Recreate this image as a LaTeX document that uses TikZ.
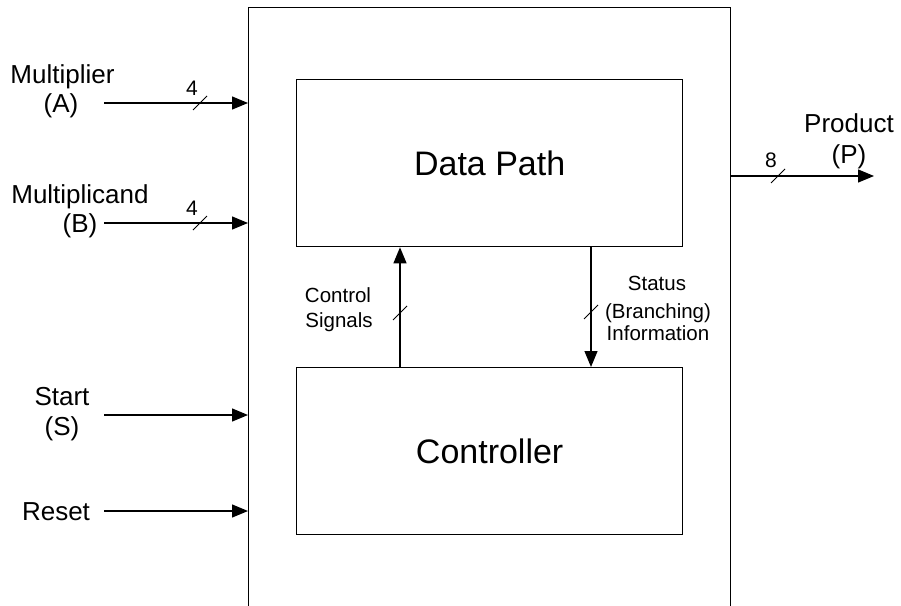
\documentclass[tikz,border=0pt]{standalone}
\usepackage{fontspec}
\setmainfont{Liberation Sans}
\usetikzlibrary{arrows.meta}
\begin{document}
\begin{tikzpicture}[x=1pt,y=-1pt,
  lbl/.style={font=\fontsize{26}{28}\selectfont, inner sep=0pt, anchor=base},
  small/.style={font=\fontsize{20.5}{24}\selectfont, inner sep=0pt, anchor=base},
  width/.style={font=\fontsize{21}{24}\selectfont, inner sep=0pt, anchor=base},
  big/.style={font=\fontsize{34}{36}\selectfont},
  sig/.style={line width=1.3pt, -{Triangle[length=16pt,width=13pt]}},
  box/.style={draw, line width=1.3pt, inner sep=0pt},
  bus/.style={line width=0.9pt}]
\useasboundingbox (0,0) rectangle (901,605);
\clip (0,0) rectangle (901,605);
% boxes
\node[box, minimum width=482pt, minimum height=640pt, anchor=north west] (outer) at (248,7) {};
\node[box, big, minimum width=386pt, minimum height=167pt, anchor=north west] (dp) at (296,79) {Data Path};
\node[box, big, minimum width=386pt, minimum height=167pt, anchor=north west] (ctrl) at (296,367) {Controller};
% input coordinates
\coordinate (ia) at (104,103);
\coordinate (ib) at (104,223);
\coordinate (is) at (104,415);
\coordinate (ir) at (104,511);
\coordinate (po) at (874,176);
\coordinate (cx) at (400,0);
\coordinate (sx) at (591,0);
% input arrows
\draw[sig] (ia) -- (ia -| outer.west);
\draw[sig] (ib) -- (ib -| outer.west);
\draw[sig] (is) -- (is -| outer.west);
\draw[sig] (ir) -- (ir -| outer.west);
% output arrow
\draw[sig] (po -| outer.east) -- (po);
% internal arrows
\draw[sig] (ctrl.north -| cx) -- (dp.south -| cx);
\draw[sig] (dp.south -| sx) -- (ctrl.north -| sx);
% bus slashes
\draw[bus] (193,110) -- ++(14,-14);
\draw[bus] (193,230) -- ++(14,-14);
\draw[bus] (771,183) -- ++(14,-14);
\draw[bus] (393,320) -- ++(14,-14);
\draw[bus] (584,319) -- ++(14,-14);
% labels
\node[lbl] at (62.5,83) {Multiplier};
\node[lbl] at (61,112) {(A)};
\node[lbl] at (80,203) {Multiplicand};
\node[lbl] at (80,232) {(B)};
\node[lbl] at (62,405) {Start};
\node[lbl] at (62,435) {(S)};
\node[lbl] at (56,520) {Reset};
\node[lbl] at (849,132) {Product};
\node[lbl] at (849,163) {(P)};
\node[width] at (192,95) {4};
\node[width] at (192,215) {4};
\node[width] at (771,167) {8};
\node[small] at (338,302) {Control};
\node[small] at (339,327) {Signals};
\node[small] at (657,290) {Status};
\node[small] at (658,318) {(Branching)};
\node[small] at (658,340) {Information};
\end{tikzpicture}
\end{document}
